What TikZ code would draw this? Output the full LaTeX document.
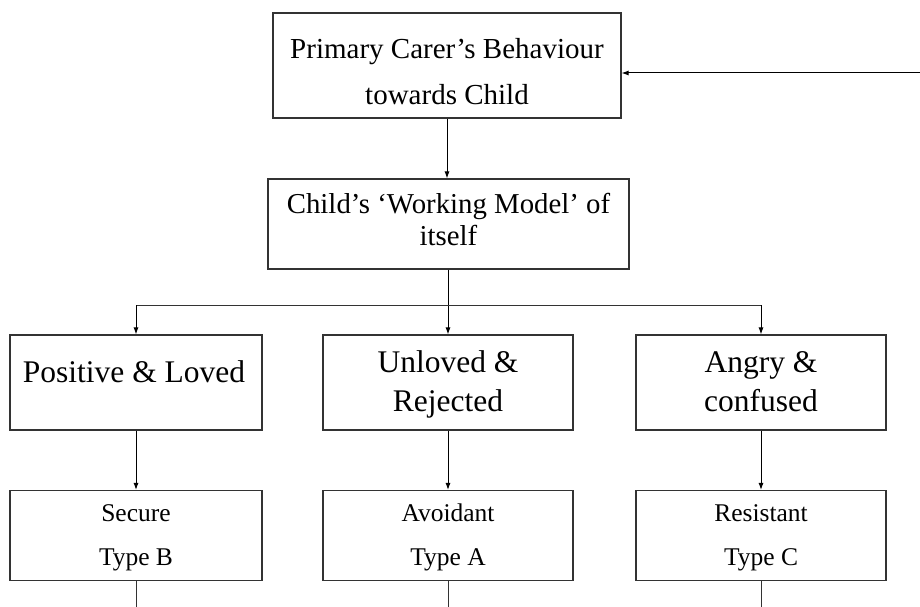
\documentclass[tikz,border=0pt]{standalone}
\usepackage{fontspec}
\setmainfont{Liberation Serif}
\usetikzlibrary{arrows.meta}
\begin{document}
\begin{tikzpicture}[x=1pt,y=-1pt,
  box/.style={draw=black!80, line width=1.1pt, rectangle, inner sep=0pt},
  txt/.style={anchor=base, inner sep=0pt},
  bigtxt/.style={txt, font=\fontsize{29}{34}\selectfont},
  midtxt/.style={txt, font=\fontsize{31.5}{36}\selectfont},
  smalltxt/.style={txt, font=\fontsize{25.5}{30}\selectfont},
  link/.style={draw=black, line width=1pt, -{Latex[length=7pt,width=5pt]}},
  plain/.style={draw=black!80, line width=0.9pt}]
\useasboundingbox (0,0) rectangle (920,607);
\fill[white] (0,0) rectangle (920,607);

% boxes
\node[box, minimum width=348pt, minimum height=105pt] (carer) at (447,65.5) {};
\node[box, minimum width=361pt, minimum height=90pt]  (model) at (448.5,224) {};
\node[box, minimum width=252pt, minimum height=95pt]  (pos) at (136,382.5) {};
\node[box, minimum width=250pt, minimum height=95pt]  (unl) at (448,382.5) {};
\node[box, minimum width=250pt, minimum height=95pt]  (ang) at (761,382.5) {};
\node[box, minimum width=252pt, minimum height=90pt]  (sec) at (136,535.5) {};
\node[box, minimum width=250pt, minimum height=90pt]  (avo) at (448,535.5) {};
\node[box, minimum width=250pt, minimum height=90pt]  (res) at (761,535.5) {};

% box texts, set on their baselines
\node[bigtxt] (carerA) at (447,59)  {Primary Carer’s Behaviour};
\node[bigtxt] (carerB) at (447,105) {towards Child};
\node[bigtxt, font=\fontsize{28.8}{34}\selectfont] (modelA) at (448.5,213) {Child’s ‘Working Model’ of};
\node[bigtxt, font=\fontsize{28.8}{34}\selectfont] (modelB) at (448.5,245) {itself};

\node[midtxt] (posA) at (134,382) {Positive \& Loved};
\node[midtxt] (unlA) at (448,372) {Unloved \&};
\node[midtxt] (unlB) at (448,411) {Rejected};
\node[midtxt] (angA) at (761,372) {Angry \&};
\node[midtxt] (angB) at (761,411) {confused};

\node[smalltxt] (secA) at (136,521) {Secure};
\node[smalltxt] (secB) at (136,565) {Type B};
\node[smalltxt] (avoA) at (448,521) {Avoidant};
\node[smalltxt] (avoB) at (448,565) {Type A};
\node[smalltxt] (resA) at (761,521) {Resistant};
\node[smalltxt] (resB) at (761,565) {Type C};

% feedback into the carer box
\coordinate (fb) at (920,73);
\draw[link] (fb) -- (fb -| carer.east);

% carer -> model
\draw[link] (carer.south) -- (carer.south |- model.north);

% model -> branching into the three self-views
\coordinate (split) at (448,305);
\draw[link] (model.south -| unl.north) -- (unl.north);
\draw[plain] (pos.north |- split) -- (ang.north |- split);
\draw[link] (pos.north |- split) -- (pos.north);
\draw[link] (ang.north |- split) -- (ang.north);

% self-views -> attachment types
\draw[link] (pos.south) -- (sec.north);
\draw[link] (unl.south) -- (avo.north);
\draw[link] (ang.south) -- (res.north);

% lines running on below the attachment types
\coordinate (bottom) at (0,607);
\draw[plain] (sec.south) -- (sec.south |- bottom);
\draw[plain] (avo.south) -- (avo.south |- bottom);
\draw[plain] (res.south) -- (res.south |- bottom);
\end{tikzpicture}
\end{document}
